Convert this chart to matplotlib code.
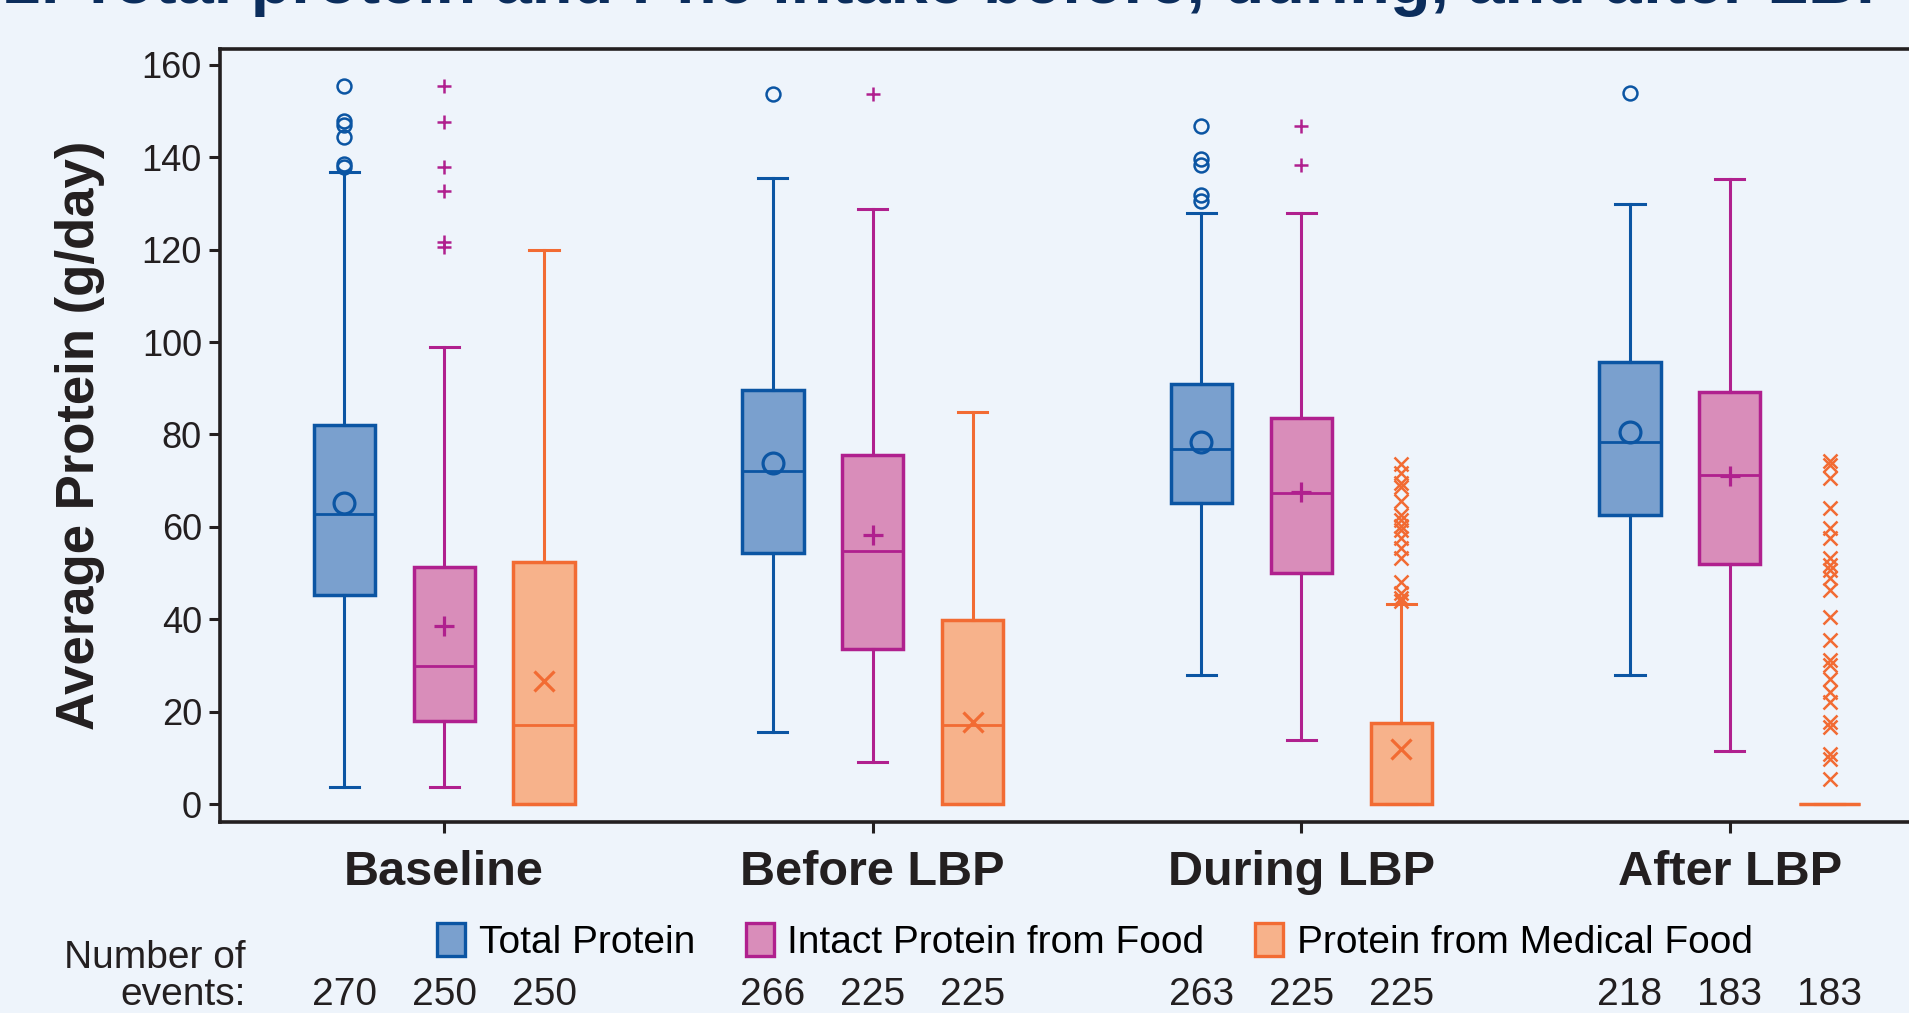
import numpy as np
import matplotlib
matplotlib.use('Agg')
import matplotlib.pyplot as plt
from matplotlib.patches import Patch
from matplotlib.transforms import blended_transform_factory

# chart values
groups = ['Baseline', 'Before LBP', 'During LBP', 'After LBP']
series = ['Total Protein', 'Intact Protein from Food', 'Protein from Medical Food']

total_q1 = [45.3, 54.4, 65.2, 62.5]
total_med = [62.7, 72.0, 76.8, 78.3]
total_q3 = [82.1, 89.6, 91.0, 95.6]
total_lo = [3.8, 15.7, 28.0, 28.0]
total_hi = [136.8, 135.4, 127.9, 129.9]
total_mean = [65.2, 73.8, 78.3, 80.5]
total_out = [[155.4, 147.8, 147.0, 144.3, 138.6, 137.8],
             [153.7],
             [146.8, 139.5, 138.4, 131.9, 130.6],
             [153.9]]

intact_q1 = [18.0, 33.6, 50.1, 52.0]
intact_med = [30.0, 54.7, 67.3, 71.3]
intact_q3 = [51.4, 75.6, 83.5, 89.1]
intact_lo = [3.8, 9.2, 14.0, 11.5]
intact_hi = [98.9, 128.7, 127.9, 135.2]
intact_mean = [38.5, 58.2, 67.5, 71.1]
intact_out = [[155.4, 147.5, 137.9, 132.7, 121.7, 120.6],
              [153.7],
              [146.8, 138.2],
              []]

medical_q1 = [0, 0, 0, 0]
medical_med = [17.1, 17.1, 0, 0]
medical_q3 = [52.3, 39.9, 17.6, 0]
medical_lo = [0, 0, 0, 0]
medical_hi = [120.0, 84.9, 43.3, 0]
medical_mean = [26.6, 17.8, 11.9, np.nan]
medical_out = [[],
               [],
               [73.6, 71.6, 69.5, 68.6, 65.7, 62.5, 61.4, 60.3, 59.3, 57.6,
                55.5, 53.3, 48.0, 45.8, 44.7, 44.0],
               [74.3, 73.3, 70.6, 64.1, 59.8, 57.6, 53.3, 51.7, 50.6, 49.0,
                46.3, 40.4, 35.6, 31.3, 30.2, 27.0, 24.3, 22.1, 17.8, 16.7,
                10.8, 9.7, 5.4]]

events = [[270, 250, 250], [266, 225, 225], [263, 225, 225], [218, 183, 183]]

# colours
bg = '#eef4fb'
edge_cols = ['#0b55a3', '#b0208e', '#f26b33']
fill_cols = ['#7aa0ce', '#d98dba', '#f7b28b']
mean_marks = ['o', '+', 'x']
axis_col = '#231f20'

narrow = ['Liberation Sans Narrow', 'Liberation Sans', 'DejaVu Sans']
wide = ['Liberation Sans', 'DejaVu Sans']

fig = plt.figure(figsize=(19.09, 10.13), dpi=100, facecolor=bg)
# axes run past the right edge like in the cropped reference
ax = fig.add_axes([220 / 1909, 191 / 1013, 1734 / 1909, 773 / 1013])
ax.set_facecolor(bg)

offsets = [-0.233, 0.0, 0.233]
box_w = 0.143
cap_w = 0.068

all_stats = [
    (total_q1, total_med, total_q3, total_lo, total_hi, total_mean, total_out),
    (intact_q1, intact_med, intact_q3, intact_lo, intact_hi, intact_mean, intact_out),
    (medical_q1, medical_med, medical_q3, medical_lo, medical_hi, medical_mean, medical_out),
]

for k, (q1, med, q3, lo, hi, mean, out) in enumerate(all_stats):
    stats = []
    for g in range(len(groups)):
        stats.append({'q1': q1[g], 'med': med[g], 'q3': q3[g],
                      'whislo': lo[g], 'whishi': hi[g],
                      'mean': mean[g], 'fliers': out[g]})
    pos = [g + offsets[k] for g in range(len(groups))]
    ec = edge_cols[k]
    mk = mean_marks[k]
    ax.bxp(stats, positions=pos, widths=box_w, capwidths=cap_w,
           patch_artist=True, showmeans=True, manage_ticks=False,
           boxprops=dict(facecolor=fill_cols[k], edgecolor=ec, linewidth=2.5),
           medianprops=dict(color=ec, linewidth=2.0),
           whiskerprops=dict(color=ec, linewidth=2.2),
           capprops=dict(color=ec, linewidth=2.2),
           meanprops=dict(marker=mk, markersize=15, markerfacecolor='none',
                          markeredgecolor=ec, markeredgewidth=2.3),
           flierprops=dict(marker=mk, markersize=10, markerfacecolor='none',
                           markeredgecolor=ec, markeredgewidth=1.8))

ax.set_xlim(-0.523, 3.523)
ax.set_ylim(-3.85, 163.4)
ax.set_yticks(np.arange(0, 161, 20))
ax.set_xticks(range(len(groups)))
ax.set_xticklabels(groups, family=narrow, fontsize=35, fontweight='bold')
for lab in ax.get_yticklabels():
    lab.set_family(wide)
    lab.set_fontsize(26)
ax.tick_params(axis='both', colors=axis_col, length=8, width=2.2, direction='out')
ax.tick_params(axis='y', pad=5, labelcolor=axis_col)
ax.tick_params(axis='x', pad=12, labelcolor=axis_col)
for s in ['left', 'bottom', 'top', 'right']:
    ax.spines[s].set_color(axis_col)
    ax.spines[s].set_linewidth(2.6)

ax.set_ylabel('Average Protein (g/day)', family=narrow, fontsize=38,
              fontweight='bold', color=axis_col, labelpad=26)

# title, mostly cut off at the top edge as in the reference
fig.text(0.002, 1 - 3 / 1013, '2. Total protein and Phe intake before, during, and after LBP',
         family=wide, fontsize=48, fontweight='bold', color='#0b2d5c',
         ha='left', va='baseline')

# legend
handles = [Patch(facecolor=fill_cols[k], edgecolor=edge_cols[k], linewidth=2.4)
           for k in range(3)]
fig.legend(handles, series, loc='center', bbox_to_anchor=(1095 / 1909, 1 - 942 / 1013),
           ncol=3, frameon=False, prop={'family': narrow, 'size': 28},
           handlelength=0.72, handleheight=0.95, handletextpad=0.35,
           columnspacing=1.3, borderaxespad=0, borderpad=0)

# number of events row
fig.text(246 / 1909, 1 - 958 / 1013, 'Number of', family=narrow, fontsize=28,
         color=axis_col, ha='right', va='center')
fig.text(246 / 1909, 1 - 995 / 1013, 'events:', family=narrow, fontsize=28,
         color=axis_col, ha='right', va='center')
trans = blended_transform_factory(ax.transData, fig.transFigure)
for g in range(len(groups)):
    for k in range(3):
        ax.text(g + offsets[k], 1 - 995 / 1013, str(events[g][k]), transform=trans,
                family=narrow, fontsize=28, color=axis_col, ha='center', va='center',
                clip_on=False)

fig.savefig('out.png', dpi=100, facecolor=bg)
